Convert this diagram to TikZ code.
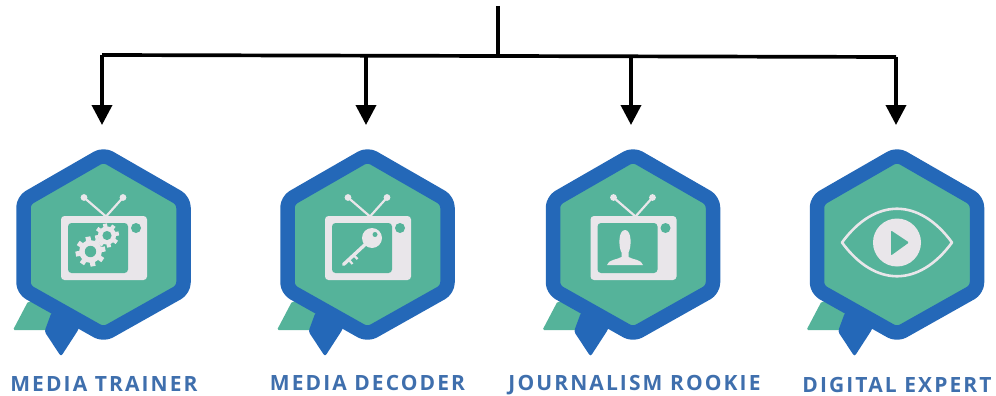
\documentclass[tikz,border=0pt]{standalone}
\usepackage{fontspec}
\setmainfont{Open Sans}
\usetikzlibrary{arrows.meta}
\definecolor{tealb}{HTML}{55B39A}
\definecolor{blueb}{HTML}{2468B8}
\definecolor{lightb}{HTML}{E9E6EA}
\definecolor{labelb}{HTML}{3F6FAD}
\newfontfamily\labelfont[LetterSpace=10]{Open Sans Bold}
\tikzset{
  conn/.style={line width=3.7pt,black},
  connarrow/.style={conn,-{Triangle[length=20pt,width=20pt]}},
  badgelabel/.style={font=\labelfont\fontsize{21}{21}\selectfont,text=labelb,inner sep=0pt,anchor=base},
  hexa/.style={fill=tealb,draw=blueb,line width=14.5pt,line join=round,rounded corners=7pt},
  tvbody/.style={fill=lightb,rounded corners=3.5pt},
  tvscreen/.style={fill=tealb,rounded corners=3.5pt},
  light/.style={fill=lightb},
  antenna/.style={draw=lightb,line width=2.2pt},
}
\newcommand{\tvset}{%
  \draw[antenna] (2.5,-28) -- (-19.5,-47);
  \draw[antenna] (2.5,-28) -- (19.5,-47);
  \fill[light] (-19.5,-47) circle (3.4);
  \fill[light] (19.5,-47) circle (3.4);
  \fill[tvbody] (-42.5,-28.5) rectangle (43.5,35.5);
  \fill[tvscreen] (-35.5,-21.5) rectangle (24.5,28.5);
  \fill[tealb] (32.5,-16.5) circle (5);
}
\newcommand{\gearicon}[3]{% x,y,r
  \begin{scope}[shift={(#1,#2)}]
    \foreach \a in {0,45,...,315}
      \fill[light,rotate=\a+10] (-#3*0.17,#3*0.72) rectangle (#3*0.17,#3);
    \fill[light] (0,0) circle ({#3*0.76});
    \fill[tealb] (0,0) circle ({#3*0.38});
  \end{scope}}
\newcommand{\badgebase}{%
  \fill[tealb,rounded corners=1.5pt] (-75.5,57) -- (-90.5,85.5) -- (-45,85.5) -- (-45,60) -- cycle;
  \fill[blueb,rounded corners=2.5pt] (-52,68) -- (-59,87) -- (-42.5,112) -- (-25,85) -- (-20,60) -- cycle;
  \draw[hexa] (0,-90) -- (80,-44) -- (80,45) -- (0,90) -- (-80,45) -- (-80,-44) -- cycle;
}
\begin{document}
\begin{tikzpicture}[x=1pt,y=-1pt]
\useasboundingbox (0,0) rectangle (996,396);
\coordinate (top) at (498,6);
\coordinate (hub) at (498,55);
\coordinate (d1) at (102,55);
\coordinate (d2) at (366,56);
\coordinate (d3) at (631,56);
\coordinate (d4) at (896,57);
\coordinate (t1) at (102,125);
\coordinate (t2) at (366,125);
\coordinate (t3) at (631,125);
\coordinate (t4) at (896,125);
\draw[conn] (top) -- (hub);
\draw[conn] (d1) -- (d4);
\draw[connarrow] (d1) -- (t1);
\draw[connarrow] (d2) -- (t2);
\draw[connarrow] (d3) -- (t3);
\draw[connarrow] (d4) -- (t4);
% badge 1
\begin{scope}[shift={(103.5,244.5)}]
  \badgebase \tvset
  \gearicon{-13}{7}{15}
  \gearicon{3.5}{-9}{12}
\end{scope}
% badge 2
\begin{scope}[shift={(367.5,244.5)}]
  \badgebase \tvset
  \draw[lightb,line width=3.4pt,line cap=round] (3,-5) -- (-24,20);
  \draw[lightb,line width=2.2pt] (-19,15) -- (-15,19.5);
  \draw[lightb,line width=2.2pt] (-14,10.5) -- (-10,14.5);
  \fill[light] (4.5,-6.5) circle (10);
  \fill[tealb] (7.5,-10) circle (2.5);
\end{scope}
% badge 3
\begin{scope}[shift={(633,244.5)}]
  \badgebase \tvset
  \fill[light] (-8,-14.5) .. controls (-15,-14.5) and (-14.5,3) .. (-11.5,8) -- (-11.5,12.5) .. controls (-15,15) and (-25,15) .. (-26,20.5) -- (10,20.5) .. controls (9,15) and (-1,15) .. (-4.5,12.5) -- (-4.5,8) .. controls (-1.5,3) and (-1,-14.5) .. (-8,-14.5) -- cycle;
\end{scope}
% badge 4
\begin{scope}[shift={(897,244.5)}]
  \badgebase
  \draw[lightb,line width=2.6pt,line join=round] (-55,-2) .. controls (-22,-47) and (22,-47) .. (55,-2) .. controls (22,43) and (-22,43) .. (-55,-2) -- cycle;
  \fill[light] (0,-2) circle (24);
  \fill[tealb,rounded corners=1pt] (-6,-14) -- (-6,11) -- (12,-2) -- cycle;
\end{scope}
\node[badgelabel] (l1) at (104,391) {MEDIA TRAINER};
\node[badgelabel] (l2) at (367.5,390) {MEDIA DECODER};
\node[badgelabel] (l3) at (634.5,390) {JOURNALISM ROOKIE};
\node[badgelabel] (l4) at (897,392) {DIGITAL EXPERT};
\end{tikzpicture}
\end{document}
